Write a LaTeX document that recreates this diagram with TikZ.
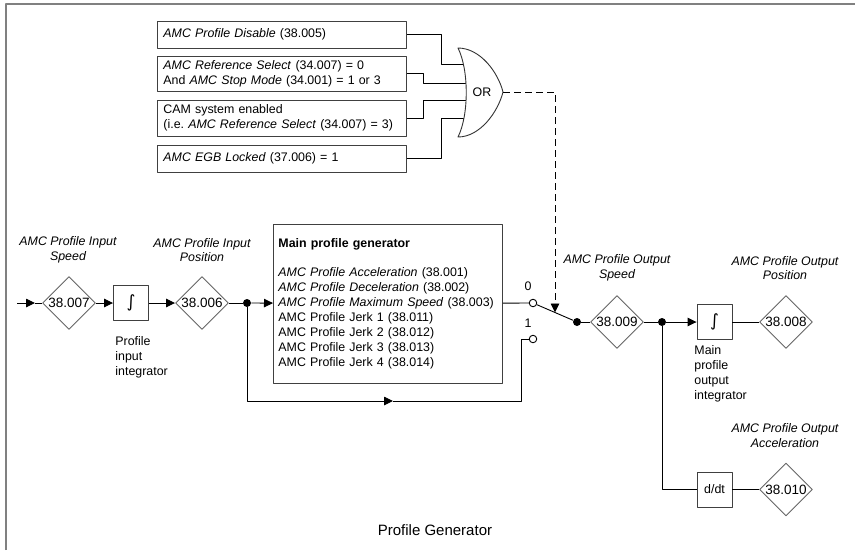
\documentclass[tikz,border=0pt]{standalone}
\usepackage{fontspec}
\setmainfont{Liberation Sans}
\newfontfamily\symfont{DejaVu Sans}
\usetikzlibrary{shapes.geometric,arrows.meta,positioning}
\newcommand\prm[1]{\makebox[0pt]{#1}}
\newcommand\integ{{\symfont\fontsize{17}{17}\selectfont ∫}}
\begin{document}
\begin{tikzpicture}[x=1pt,y=-1pt,line width=0.9pt,line join=round,>={Triangle[length=9pt,width=8.5pt]},
	font=\fontsize{12.4}{15}\selectfont,
	par/.style={diamond,draw=black!60,minimum size=53pt,inner sep=0pt,font=\fontsize{13.5}{15}\selectfont},
	blk/.style={draw=black!75,minimum size=35pt,inner sep=0pt},
	src/.style={draw=black!75,anchor=west,text width=237pt,inner xsep=6pt,align=left},
	lbl/.style={align=center,font=\fontsize{12.4}{14.5}\selectfont\itshape},
	note/.style={align=left,anchor=west,inner sep=2pt},
	pt/.style={circle,fill,inner sep=0pt,minimum size=8pt},
	cont/.style={circle,draw,fill=white,inner sep=0pt,minimum size=7.5pt}]
	\useasboundingbox (0,0) rectangle (855,550);
	\draw[black!50,line width=2.2pt] (6,550)--(6,4)--(855,4);
	% conditions for the OR gate
	\node[src,minimum height=27pt] (b1) at (157,34.5) {\textit{AMC Profile Disable} (38.005)};
	\node[src,minimum height=35pt] (b2) at (157,73.5) {\textit{AMC Reference Select} (34.007) = 0\\And \textit{AMC Stop Mode} (34.001) = 1 or 3};
	\node[src,minimum height=36pt] (b3) at (157,118) {CAM system enabled\\(i.e.\ \textit{AMC Reference Select} (34.007) = 3)};
	\node[src,minimum height=27pt] (b4) at (157,158.5) {\textit{AMC EGB Locked} (37.006) = 1};
	\path
	(470,64) coordinate (in1)
	(470,83) coordinate (in2)
	(470,100) coordinate (in3)
	(470,118) coordinate (in4)
	(503,92) coordinate (ortip);
	\foreach \b/\d in {1/35,2/17,3/17,4/35} \draw (b\b.east)--++(\d,0) |- (in\b);
	\draw[black!80,fill=white] (458,48) .. controls (480,48) and (498,72) .. (ortip)
	.. controls (498,112) and (480,137) .. (458,137)
	.. controls (469,115) and (469,70) .. cycle;
	\node (or) at (482,92) {OR};
	% main path
	\path (17,303) coordinate (start) (35,303) coordinate (startarr);
	\node[par] (p7) at (69,303) {\prm{38.007}};
	\node[blk] (int1) at (131,303) {\integ};
	\node[par] (p6) at (202,303) {\prm{38.006}};
	\node[pt] (d1) at (247,303) {};
	\node[draw=black!75,anchor=north west,minimum width=229pt,minimum height=159pt,text width=219pt,inner xsep=5pt,align=left] (gen) at (273,223.5)
	{\textbf{Main profile generator}\\[14pt]
		\textit{AMC Profile Acceleration} (38.001)\\
		\textit{AMC Profile Deceleration} (38.002)\\
		\textit{AMC Profile Maximum Speed} (38.003)\\
		AMC Profile Jerk 1 (38.011)\\
		AMC Profile Jerk 2 (38.012)\\
		AMC Profile Jerk 3 (38.013)\\
		AMC Profile Jerk 4 (38.014)};
	\node[cont,label={[shift={(-5pt,0pt)},label distance=4pt]above:0}] (c0) at (533,303) {};
	\node[cont,label={[shift={(-5pt,0pt)},label distance=4pt]above:1}] (c1) at (533,339) {};
	\node[pt] (d2) at (577,322) {};
	\node[par] (p9) at (617,322) {\prm{38.009}};
	\node[pt] (d3) at (662,322) {};
	\node[blk] (int2) at (714.5,322) {\integ};
	\node[par] (p8) at (786,322) {\prm{38.008}};
	\node[blk] (dt) at (714.5,489.5) {d/dt};
	\node[par] (p10) at (786,489.5) {\prm{38.010}};
	\path (555,312.5) coordinate (swmid)
	(393,401) coordinate (byarr)
	(521,401) coordinate (bycor);
	% labels
	\node[lbl] (lp7) at (68,250) {AMC Profile Input\\Speed};
	\node[lbl] (lp6) at (202,250) {AMC Profile Input\\Position};
	\node[lbl] (lp9) at (617,268) {AMC Profile Output\\Speed};
	\node[lbl] (lp8) at (785,268) {AMC Profile Output\\Position};
	\node[lbl] (lp10) at (785,435.5) {AMC Profile Output\\Acceleration};
	\node[note] (nint1) at (113,357) {Profile\\input\\integrator};
	\node[note] (nint2) at (692,374) {Main\\profile\\output\\integrator};
	\node[font=\fontsize{15}{18}\selectfont] (title) at (435,530) {Profile Generator};
	% connectors
	\draw[->] (start)--(startarr);
	\draw (startarr)--(p7);
	\draw[->] (p7)--(int1);
	\draw[->] (int1)--(p6);
	\draw (p6)--(d1);
	\draw[->] (d1)--(gen);
	\draw (gen)--(c0);
	\draw (c0)--(d2);
	\draw[->] (d1) |- (byarr);
	\draw (byarr)--(bycor) |- (c1);
	\draw[dash pattern=on 7pt off 4pt,->] (ortip) -| (swmid);
	\draw (d2)--(p9);
	\draw (p9)--(d3);
	\draw[->] (d3)--(int2);
	\draw (int2)--(p8);
	\draw (d3) |- (dt);
	\draw (dt)--(p10);
\end{tikzpicture}
\end{document}
